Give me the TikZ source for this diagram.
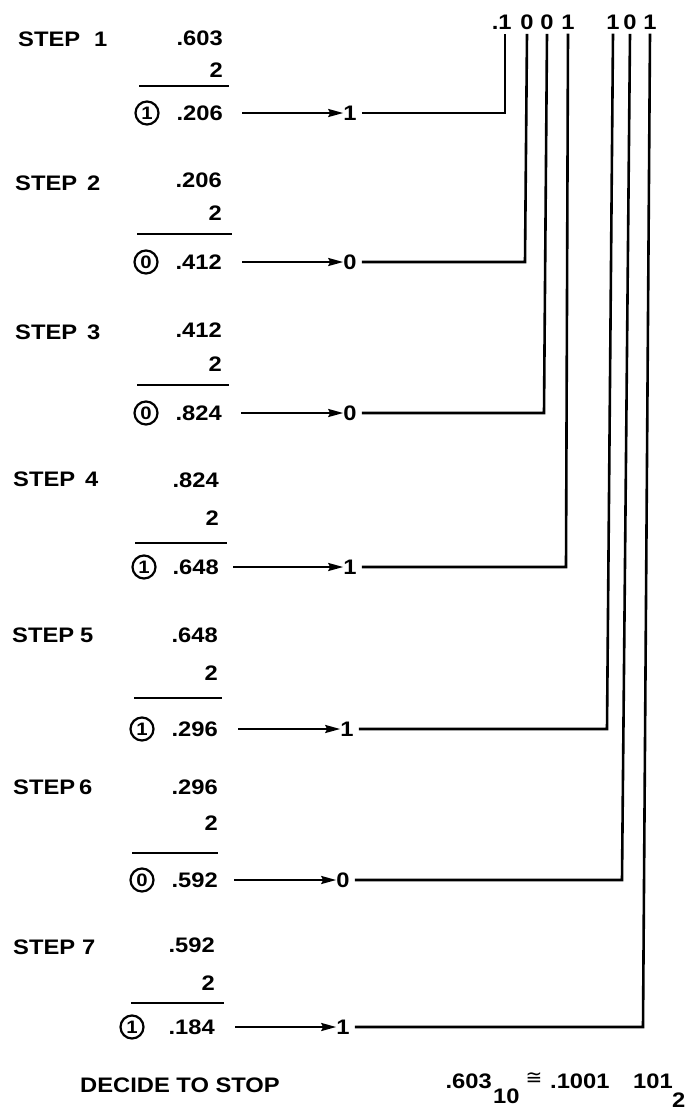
\documentclass[tikz,border=0pt]{standalone}
\usepackage{fontspec}
\setmainfont{Liberation Sans}[FakeStretch=1.13]
\newfontfamily\dvfont{DejaVu Sans}
\usetikzlibrary{arrows.meta}
\tikzset{
  txt/.style={font=\bfseries\fontsize{21}{21}\selectfont, inner sep=0pt},
  circ/.style={draw, circle, line width=2.2pt, minimum size=23pt, inner sep=0pt,
    font=\bfseries\fontsize{18}{18}\selectfont},
  conn/.style={line width=2.6pt},
  arr/.style={line width=2.2pt, -{Stealth[length=15pt,width=8pt,inset=2pt]}},
  divbar/.style={line width=2.5pt},
}
\begin{document}
\begin{tikzpicture}[x=1pt,y=-1pt]
\useasboundingbox (0,0) rectangle (692,1111);
% top binary digits
\node[txt,anchor=base] (t1) at (505,29.5) {\llap{.}1};
\node[txt,anchor=base] (t2) at (527,29.5) {0};
\node[txt,anchor=base] (t3) at (547,29.5) {0};
\node[txt,anchor=base] (t4) at (568,29.5) {1};
\node[txt,anchor=base] (t5) at (613,29.5) {1};
\node[txt,anchor=base] (t6) at (630,29.5) {0};
\node[txt,anchor=base] (t7) at (650,29.5) {1};
\foreach \i/\ly/\lx/\sp/\top/\ty/\two/\bary/\bl/\br/\ry/\nr/\cx/\c/\res/\gap/\dx/\kx in {
 1/39/18/14/.603/38/70/86/139/229/113/223/147/1/.206/19/350/505,
 2/183/15/10/.206/180/213/234/137/232/262/222/146/0/.412/20/350/525,
 3/332/15/10/.412/330/364/385/137/229/413/222/146/0/.824/19/350/544,
 4/479/13/10/.824/480/518/543/135/227/567/219/144/1/.648/14/350/566,
 5/635/12/6/.648/635/673/698/134/222/729/218/142/1/.296/20/347/607,
 6/787/13/4/.296/787/823/853/132/218/880/218/142/0/.592/16/343/622,
 7/947/13/7/.592/945/983/1003/131/224/1027/215/132/1/.184/20/343/643}{
  \node[txt,anchor=west] (lab\i) at (\lx,\ly) {STEP\hspace{\sp pt}\i};
  \node[txt,anchor=east] (top\i) at (\nr,\ty) {\top};
  \node[txt,anchor=east] (two\i) at (\nr,\two) {2};
  \draw[divbar] (\bl,\bary) -- (\br,\bary);
  \node[circ] (c\i) at (\cx,\ry) {\c};
  \node[txt,anchor=east] (r\i) at (\nr,\ry) {\res};
  \node[txt] (d\i) at (\dx,\ry) {\c};
  \coordinate (k\i) at (\kx,\ry);
  \draw[arr, shorten <=\gap pt] (r\i.east) -- (d\i.west);
  \draw[conn] ([xshift=5pt]d\i.east) -- (k\i) -- ([yshift=-4pt]t\i.south);
}
\node[txt,anchor=west] (stop) at (80,1085) {DECIDE TO STOP};
% result formula
\node[txt,anchor=base east] (f1) at (492,1088) {.603};
\node[txt,anchor=base west] (f2) at (493,1103) {10};
\node[inner sep=0pt,font=\dvfont\fontsize{20}{20}\selectfont] (f3) at (534,1079) {≅};
\node[txt,anchor=base west] (f4) at (550,1088) {.1001};
\node[txt,anchor=base west] (f5) at (633,1088) {101};
\node[txt,anchor=base west] (f6) at (672,1107) {2};
\end{tikzpicture}
\end{document}
